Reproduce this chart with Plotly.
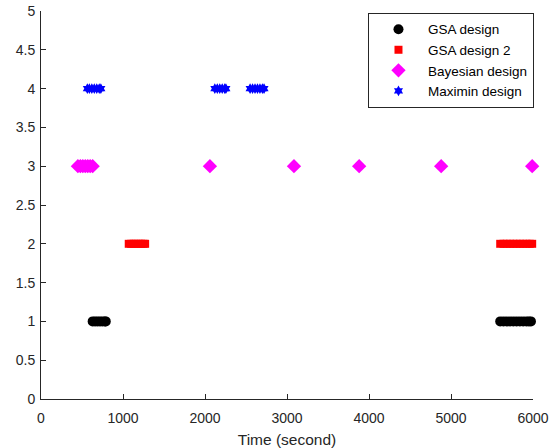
import plotly.graph_objects as go

# ---- data ----
gsa_x = [630, 660, 690, 720, 750, 780, 790,
         5600, 5640, 5680, 5720, 5760, 5800, 5840, 5880, 5920, 5950, 5975]
gsa_y = [1] * len(gsa_x)

gsa2_x = [1070, 1100, 1130, 1160, 1190, 1220, 1250, 1270,
          5600, 5640, 5680, 5720, 5760, 5800, 5840, 5880, 5920, 5960, 5990]
gsa2_y = [2] * len(gsa2_x)

bayes_x = [450, 480, 510, 540, 570, 600, 630,
           2060, 3085, 3880, 4880, 5990]
bayes_y = [3] * len(bayes_x)

maximin_x = [565, 590, 620, 650, 680, 710, 730,
             2120, 2150, 2180, 2210, 2240, 2255,
             2550, 2580, 2610, 2640, 2670, 2700, 2720]
maximin_y = [4] * len(maximin_x)

x_ticks = [0, 1000, 2000, 3000, 4000, 5000, 6000]
y_ticks = [0, 0.5, 1, 1.5, 2, 2.5, 3, 3.5, 4, 4.5, 5]
y_tick_labels = ["0", "0.5", "1", "1.5", "2", "2.5", "3", "3.5", "4", "4.5", "5"]

fig = go.Figure()
fig.add_trace(go.Scatter(x=gsa_x, y=gsa_y, mode="markers", name="GSA design", cliponaxis=False,
                         marker=dict(symbol="circle", size=10, color="black")))
fig.add_trace(go.Scatter(x=gsa2_x, y=gsa2_y, mode="markers", name="GSA design 2", cliponaxis=False,
                         marker=dict(symbol="square", size=8, color="red")))
fig.add_trace(go.Scatter(x=bayes_x, y=bayes_y, mode="markers", name="Bayesian design", cliponaxis=False,
                         marker=dict(symbol="diamond", size=11, color="magenta")))
fig.add_trace(go.Scatter(x=maximin_x, y=maximin_y, mode="markers", name="Maximin design", cliponaxis=False,
                         marker=dict(symbol="hexagram", size=8, color="blue")))

axis_col = "#262626"
fig.update_layout(
    width=551, height=448,
    margin=dict(l=41, r=18, t=11, b=49),
    plot_bgcolor="white", paper_bgcolor="white",
    font=dict(family="Liberation Sans, Arial, sans-serif", size=14, color=axis_col),
    showlegend=True,
    legend=dict(x=1.002, xanchor="right", y=0.995, yanchor="top",
                bordercolor=axis_col, borderwidth=1, bgcolor="white",
                font=dict(size=13.5, color="black"), itemwidth=49,
                tracegroupgap=0),
    xaxis=dict(range=[0, 6000], tickvals=x_ticks, ticks="inside", ticklen=5,
               showline=True, linecolor=axis_col, linewidth=1, tickcolor=axis_col,
               showgrid=False, zeroline=False, automargin=False,
               ticklabelstandoff=6, ticklabeloverflow="allow",
               title=dict(text="Time (second)", font=dict(size=15.5), standoff=10)),
    yaxis=dict(range=[0, 5], tickvals=y_ticks, ticktext=y_tick_labels,
               ticks="inside", ticklen=5, automargin=False, ticklabelstandoff=2,
               ticklabeloverflow="allow",
               showline=True, linecolor=axis_col, linewidth=1, tickcolor=axis_col,
               showgrid=False, zeroline=False),
)

fig.write_html("out.html", config={"displayModeBar": False},
               post_script="document.body.style.margin='0';")
